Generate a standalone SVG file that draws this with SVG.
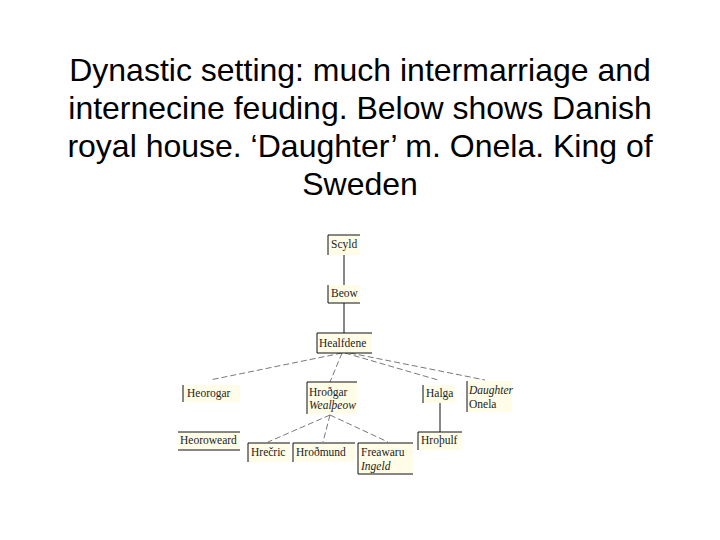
<svg xmlns="http://www.w3.org/2000/svg" width="720" height="540" viewBox="0 0 720 540">
<style>
.t{font-family:"Liberation Sans",Arial,sans-serif;font-size:32px;text-anchor:middle;fill:#000}
.n{font-family:"Liberation Serif","Times New Roman",serif;font-size:11.5px;fill:#222}
.i{font-style:italic}
.b{fill:#fffde8}
.e{stroke:#111;stroke-width:1;fill:none}
.d{stroke:#555;stroke-width:0.8;stroke-dasharray:6 3;fill:none}
</style>
<rect width="720" height="540" fill="#fff"/>
<text class="t" x="360" y="81">Dynastic setting: much intermarriage and</text>
<text class="t" x="360" y="119">internecine feuding. Below shows Danish</text>
<text class="t" x="360" y="157">royal house. ‘Daughter’ m. Onela. King of</text>
<text class="t" x="360" y="195">Sweden</text>
<g id="connectors">
<path class="e" d="M344 255V285M344 303V333M440 403V432"/>
<path class="d" d="M342 353L210 380M342 353L330 382M345 353L438 380M350 353L485 380M330 415L268 442M330 415L323 442M330 415L388 442"/>
</g>
<g id="scyld"><rect class="b" x="328" y="235" width="32" height="20"/><path class="e" d="M360 235H328V255"/><text class="n" x="331" y="248">Scyld</text></g>
<g id="beow"><rect class="b" x="328" y="285" width="32" height="18"/><path class="e" d="M328 285V303H360"/><text class="n" x="331" y="297">Beow</text></g>
<g id="healfdene"><rect class="b" x="317" y="333" width="55" height="20"/><path class="e" d="M372 333H317V353H372"/><text class="n" x="319" y="347">Healfdene</text></g>
<g id="heorogar"><rect class="b" x="183" y="385" width="57" height="17"/><path class="e" d="M183 385V402"/><text class="n" x="187" y="397">Heorogar</text></g>
<g id="hrothgar"><rect class="b" x="307" y="382" width="50" height="32"/><path class="e" d="M357 382H307V414"/><text class="n" x="309" y="396">Hroðgar</text><text class="n i" x="309" y="409">Wealþeow</text></g>
<g id="halga"><rect class="b" x="423" y="385" width="32" height="18"/><path class="e" d="M423 385V403"/><text class="n" x="426" y="397">Halga</text></g>
<g id="daughter"><rect class="b" x="467" y="381" width="45" height="31"/><path class="e" d="M467 381V412"/><text class="n i" x="469" y="394">Daughter</text><text class="n" x="469" y="408">Onela</text></g>
<g id="heoroweard"><rect class="b" x="178" y="432" width="62" height="18"/><path class="e" d="M178 432H240M178 450H240"/><text class="n" x="180" y="444">Heoroweard</text></g>
<g id="hrethric"><rect class="b" x="248" y="443" width="42" height="19"/><path class="e" d="M290 443H248V462"/><text class="n" x="251" y="456">Hrečric</text></g>
<g id="hrothmund"><rect class="b" x="293" y="443" width="62" height="19"/><path class="e" d="M355 443H293V462"/><text class="n" x="296" y="456">Hroðmund</text></g>
<g id="freawaru"><rect class="b" x="358" y="443" width="55" height="31"/><path class="e" d="M413 443H358V474H413"/><text class="n" x="361" y="456">Freawaru</text><text class="n i" x="361" y="470">Ingeld</text></g>
<g id="hrothulf"><rect class="b" x="418" y="432" width="44" height="18"/><path class="e" d="M462 432H418V450"/><text class="n" x="421" y="444">Hroþulf</text></g>
</svg>
